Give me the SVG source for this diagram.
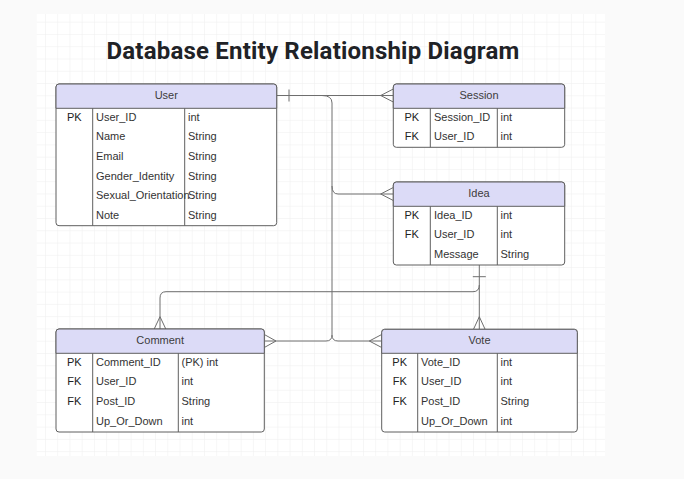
<svg xmlns="http://www.w3.org/2000/svg" width="684" height="479" viewBox="0 0 684 479">
<defs>
<style>
.t{font-family:"Liberation Sans",Arial,sans-serif;font-size:11px;fill:#333}
.k{text-anchor:middle;fill:#222}
.h{text-anchor:middle;fill:#3c3c3c}
.box{fill:#fff;stroke:#5f5f5f;stroke-width:1}
.hd{fill:#dcdbf7;stroke:#5f5f5f;stroke-width:1}
.ln{fill:none;stroke:#5f5f5f;stroke-width:1}
.c{fill:none;stroke:#6e6e6e;stroke-width:1}
</style>
<pattern id="grid" x="45" y="21.7" width="12.23" height="12.27" patternUnits="userSpaceOnUse">
<path d="M0 0V12.27M0 0H12.23" fill="none" stroke="#eeeeee" stroke-width="1"/>
</pattern>
</defs>
<rect width="684" height="479" fill="#fafafa"/>
<rect x="36.7" y="14" width="568.3" height="442" fill="#fff"/>
<rect x="36.7" y="14" width="568.3" height="442" fill="url(#grid)"/>
<text x="313" y="58.5" text-anchor="middle" font-family="Roboto,'Liberation Sans',sans-serif" font-size="24" font-weight="bold" letter-spacing="0.2" fill="#1f2226">Database Entity Relationship Diagram</text>

<g id="connectors">
<path class="c" d="M276.7 95.5H393.3"/>
<path class="c" d="M289 89.5V101.5"/>
<path class="c" d="M380.7 95.5L393.3 89M380.7 95.5L393.3 102"/>
<path class="c" d="M322 95.5Q332 95.5 332 103V335Q332 341 326 341H264.3"/>
<path class="c" d="M332 186Q332 194 338 194H393.3"/>
<path class="c" d="M380.7 194L393.3 187.5M380.7 194L393.3 200.5"/>
<path class="c" d="M332 335Q332 341 338 341H381.7"/>
<path class="c" d="M276 341L264.3 334.5M276 341L264.3 347.5"/>
<path class="c" d="M369.3 341L381.7 334.5M369.3 341L381.7 347.5"/>
<path class="c" d="M479.3 265V329.3"/>
<path class="c" d="M472.8 276.7H485.8"/>
<path class="c" d="M479.3 316.7L473.5 329.3M479.3 316.7L485.1 329.3"/>
<path class="c" d="M479.3 285Q479.3 291.7 473 291.7H166Q160 291.7 160 298V329"/>
<path class="c" d="M160 316.7L154.2 329M160 316.7L165.8 329"/>
</g>

<g id="user">
<rect class="box" x="56" y="84" width="220.7" height="141.7" rx="3"/>
<path class="hd" d="M56 108.3V87Q56 84 59 84H273.7Q276.7 84 276.7 87V108.3Z"/>
<path class="ln" d="M92.7 108.3V225.7M184.7 108.3V225.7"/>
<text class="t h" x="166.3" y="98.5">User</text>
<text class="t k" x="74.3" y="120.7">PK</text>
<text class="t" x="96" y="120.7">User_ID</text><text class="t" x="188" y="120.7">int</text>
<text class="t" x="96" y="140.3">Name</text><text class="t" x="188" y="140.3">String</text>
<text class="t" x="96" y="159.9">Email</text><text class="t" x="188" y="159.9">String</text>
<text class="t" x="96" y="179.5">Gender_Identity</text><text class="t" x="188" y="179.5">String</text>
<text class="t" x="96" y="199.1">Sexual_Orientation</text><text class="t" x="188" y="199.1">String</text>
<text class="t" x="96" y="218.7">Note</text><text class="t" x="188" y="218.7">String</text>
</g>

<g id="session">
<rect class="box" x="393.3" y="84" width="171.4" height="63.3" rx="3"/>
<path class="hd" d="M393.3 108.3V87Q393.3 84 396.3 84H561.7Q564.7 84 564.7 87V108.3Z"/>
<path class="ln" d="M430.3 108.3V147.3M497.3 108.3V147.3"/>
<text class="t h" x="479" y="98.5">Session</text>
<text class="t k" x="411.8" y="120.7">PK</text>
<text class="t" x="434" y="120.7">Session_ID</text><text class="t" x="500.5" y="120.7">int</text>
<text class="t k" x="411.8" y="140.3">FK</text>
<text class="t" x="434" y="140.3">User_ID</text><text class="t" x="500.5" y="140.3">int</text>
</g>

<g id="idea">
<rect class="box" x="393.3" y="182" width="171.4" height="83" rx="3"/>
<path class="hd" d="M393.3 206.3V185Q393.3 182 396.3 182H561.7Q564.7 182 564.7 185V206.3Z"/>
<path class="ln" d="M430.3 206.3V265M497.3 206.3V265"/>
<text class="t h" x="479" y="196.5">Idea</text>
<text class="t k" x="411.8" y="218.7">PK</text>
<text class="t" x="434" y="218.7">Idea_ID</text><text class="t" x="500.5" y="218.7">int</text>
<text class="t k" x="411.8" y="238.3">FK</text>
<text class="t" x="434" y="238.3">User_ID</text><text class="t" x="500.5" y="238.3">int</text>
<text class="t" x="434" y="257.9">Message</text><text class="t" x="500.5" y="257.9">String</text>
</g>

<g id="comment">
<rect class="box" x="56" y="329" width="208.3" height="103" rx="3"/>
<path class="hd" d="M56 353.3V332Q56 329 59 329H261.3Q264.3 329 264.3 332V353.3Z"/>
<path class="ln" d="M92.7 353.3V432M178.3 353.3V432"/>
<text class="t h" x="160.2" y="343.7">Comment</text>
<text class="t k" x="74.3" y="365.7">PK</text>
<text class="t" x="96" y="365.7">Comment_ID</text><text class="t" x="181.5" y="365.7">(PK) int</text>
<text class="t k" x="74.3" y="385.3">FK</text>
<text class="t" x="96" y="385.3">User_ID</text><text class="t" x="181.5" y="385.3">int</text>
<text class="t k" x="74.3" y="404.9">FK</text>
<text class="t" x="96" y="404.9">Post_ID</text><text class="t" x="181.5" y="404.9">String</text>
<text class="t" x="96" y="424.5">Up_Or_Down</text><text class="t" x="181.5" y="424.5">int</text>
</g>

<g id="vote">
<rect class="box" x="381.7" y="329.3" width="195.6" height="102.7" rx="3"/>
<path class="hd" d="M381.7 353.3V332.3Q381.7 329.3 384.7 329.3H574.3Q577.3 329.3 577.3 332.3V353.3Z"/>
<path class="ln" d="M417.7 353.3V432M497.3 353.3V432"/>
<text class="t h" x="479.5" y="343.7">Vote</text>
<text class="t k" x="399.7" y="365.7">PK</text>
<text class="t" x="421" y="365.7">Vote_ID</text><text class="t" x="500.5" y="365.7">int</text>
<text class="t k" x="399.7" y="385.3">FK</text>
<text class="t" x="421" y="385.3">User_ID</text><text class="t" x="500.5" y="385.3">int</text>
<text class="t k" x="399.7" y="404.9">FK</text>
<text class="t" x="421" y="404.9">Post_ID</text><text class="t" x="500.5" y="404.9">String</text>
<text class="t" x="421" y="424.5">Up_Or_Down</text><text class="t" x="500.5" y="424.5">int</text>
</g>
</svg>
